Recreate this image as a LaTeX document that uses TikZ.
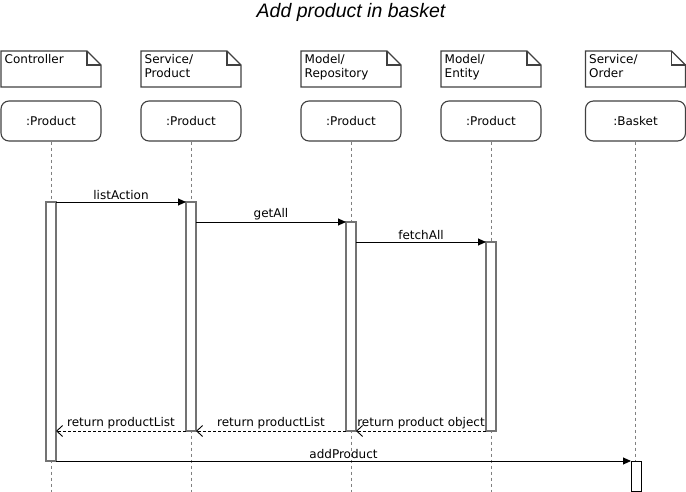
\documentclass[tikz,border=0pt]{standalone}
\usepackage{fontspec}
\setmainfont{DejaVu Sans}
\newfontfamily\titlefont{Liberation Sans}
\usetikzlibrary{calc}
\usetikzlibrary{arrows.meta}

\tikzset{
	objbox/.style={draw=black!75, rounded corners=8pt, minimum width=100pt, minimum height=40pt, inner sep=0pt, line width=1.1pt},
	actbox/.style={draw=black!55, fill=white, minimum width=10pt, inner sep=0pt, outer sep=0pt, line width=1.2pt},
	lifeline/.style={black!50, dash pattern=on 3pt off 3pt, line width=1pt},
	call/.style={-{Triangle[length=8pt,width=7pt]}, line width=0.9pt},
	reply/.style={-{Straight Barb[length=6pt,width=11pt]}, dash pattern=on 3pt off 2pt, line width=0.9pt},
	msg/.style={above, inner sep=1.5pt}
}

\begin{document}
\begin{tikzpicture}[x=1pt,y=-1pt,font=\fontsize{12}{13.5}\selectfont]
	\useasboundingbox (0,0) rectangle (686,492);
	\node[font=\titlefont\itshape\fontsize{19.5}{22}\selectfont] (title) at (351,12) {Add product in basket};
	% packages, objects and lifelines
	\foreach \x/\pkg/\obj/\nm in {51/Controller/:Product/ctl, 191/{Service/\\Product}/:Product/svc, 351/{Model/\\Repository}/:Product/repo, 491/{Model/\\Entity}/:Product/ent, 635.5/{Service/\\Order}/:Basket/bsk}{
		\coordinate (c) at ($(\x,51)+(-50,0)$);
		\draw[black!75, line width=1.1pt] (c) -- ++(86,0) -- ++(14,14) -- ++(0,22) -- ++(-100,0) -- cycle;
		\draw[black!75, line width=1.1pt] ($(c)+(86,0)$) -- ++(0,14) -- ++(14,0);
		\node[anchor=north west, inner sep=2.5pt, align=left] (note\nm) at ($(c)+(1,1)$) {\pkg};
		\node[objbox] (\nm) at (\x,121) {\obj};
		\draw[lifeline] (\nm.south) -- (\x,492);
	}
	% activations
	\node[actbox, minimum height=259pt, anchor=north] (actctl) at (51,202) {};
	\node[actbox, minimum height=229pt, anchor=north] (actsvc) at (191,202) {};
	\node[actbox, minimum height=209pt, anchor=north] (actrepo) at (351,222) {};
	\node[actbox, minimum height=189pt, anchor=north] (actent) at (491,242) {};
	\node[actbox, draw=black, line width=0.9pt, minimum height=30pt, anchor=north] (actbsk) at (636,461) {};
	% messages
	\draw[call] (actctl.north east) -- node[msg] {listAction} (actsvc.north west);
	\draw[call] (actrepo.north west -| actsvc.east) -- node[msg] {getAll} (actrepo.north west);
	\draw[call] (actent.north west -| actrepo.east) -- node[msg] {fetchAll} (actent.north west);
	\draw[reply] (actent.south west) -- node[msg] {return product object} (actrepo.south east);
	\draw[reply] (actrepo.south west) -- node[msg] {return productList} (actsvc.south east);
	\draw[reply] (actsvc.south west) -- node[msg] {return productList} (actsvc.south west -| actctl.east);
	\draw[call] (actctl.south east) -- node[msg] {addProduct} (actbsk.north west);
\end{tikzpicture}
\end{document}
